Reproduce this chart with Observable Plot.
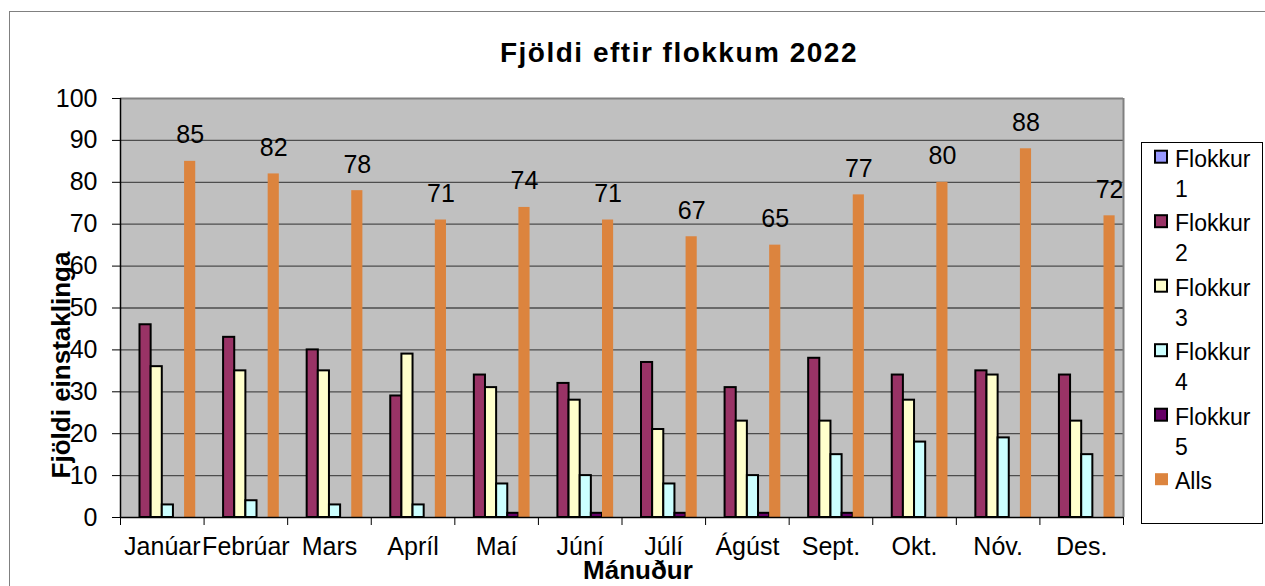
<!DOCTYPE html>
<html>
<head>
<meta charset="utf-8">
<script src="https://cdn.jsdelivr.net/npm/d3@7"></script>
<script src="https://cdn.jsdelivr.net/npm/@observablehq/plot@0.6"></script>
<style>
  html, body { margin: 0; padding: 0; background: white; }
  #chart { position: relative; width: 1265px; height: 586px; overflow: hidden; }
</style>
</head>
<body>
<div id="chart"></div>
<script>
const months = ["Janúar","Febrúar","Mars","Apríl","Maí","Júní","Júlí","Ágúst","Sept.","Okt.","Nóv.","Des."];
const series = ["Flokkur 1","Flokkur 2","Flokkur 3","Flokkur 4","Flokkur 5","Alls"];
const colors = ["#9999ff","#993366","#ffffcc","#ccffff","#660066","#dc843e"];
const flokkur1 = [null,null,null,null,null,null,null,null,null,null,null,null];
const flokkur2 = [46,43,40,29,34,32,37,31,38,34,35,34];
const flokkur3 = [36,35,35,39,31,28,21,23,23,28,34,23];
const flokkur4 = [3,4,3,3,8,10,8,10,15,18,19,15];
const flokkur5 = [null,null,null,null,1,1,1,1,1,null,null,null];
const alls = [85,82,78,71,74,71,67,65,77,80,88,72];
const yTicks = [0,10,20,30,40,50,60,70,80,90,100];

const titleText = "Fjöldi eftir flokkum 2022";
const yLabel = "Fjöldi einstaklinga";
const xLabel = "Mánuður";

const seriesValues = [flokkur1, flokkur2, flokkur3, flokkur4, flokkur5, alls];
const rows = [];
seriesValues.forEach((vals, s) => vals.forEach((v, m) => { if (v != null) rows.push({m, s, v, name: series[s]}); }));

const groupPad = 0.1;
const barW = (1 - 2 * groupPad) / series.length;
const x1 = d => d.m + groupPad + d.s * barW;
const x2 = d => d.m + groupPad + (d.s + 1) * barW;
const xc = d => d.m + groupPad + (d.s + 0.5) * barW;

const FONT = "'Liberation Sans', Arial, Helvetica, sans-serif";

const plot = Plot.plot({
  width: 1265,
  height: 586,
  marginLeft: 120,
  marginRight: 142,
  marginTop: 98,
  marginBottom: 69,
  x: {domain: [0, months.length], axis: null},
  y: {domain: [0, 100], axis: null},
  color: {domain: series, range: colors},
  style: {fontFamily: FONT, fontSize: "25px", background: "white", color: "black"},
  marks: [
    Plot.frame({fill: "#c0c0c0", stroke: null}),
    Plot.ruleY(yTicks.filter(t => t > 0 && t < 100), {stroke: "#4d4d4d", strokeWidth: 1.3}),
    Plot.ruleY([100], {stroke: "#808080", strokeWidth: 2}),
    Plot.ruleX([months.length], {stroke: "#808080", strokeWidth: 2}),
    Plot.rectY(rows.filter(d => d.name !== "Alls"), {x1, x2, y1: 0, y2: "v", fill: "name", stroke: "black", strokeWidth: 2}),
    Plot.rectY(rows.filter(d => d.name === "Alls"), {x1, x2, y1: 0, y2: "v", fill: "name"}),
    Plot.text(rows.filter(d => d.name === "Alls"), {x: xc, y: "v", text: d => String(d.v), lineAnchor: "bottom", dy: -18, fontSize: 25, fill: "black"}),
    Plot.ruleX([0], {stroke: "black", strokeWidth: 1.5}),
    Plot.ruleY([0], {stroke: "black", strokeWidth: 1.5}),
    Plot.axisY({ticks: yTicks, tickSize: 8, tickPadding: 15, fontSize: 25, label: null, stroke: "black"}),
    Plot.axisX({ticks: months.map((_, i) => i).concat([months.length]), tickFormat: () => "", tickSize: 8, label: null, stroke: "black"}),
    Plot.axisX({ticks: months.map((_, i) => i + 0.5), tickFormat: d => months[Math.floor(d)], tickSize: 0, tickPadding: 20, fontSize: 25, label: null})
  ]
});

const svg = d3.select(plot);
// outer chart border
svg.append("rect").attr("x", 9.5).attr("y", 11.5).attr("width", 1270).attr("height", 600)
  .attr("fill", "none").attr("stroke", "#808080").attr("stroke-width", 1);
// title
svg.append("text").attr("x", 679).attr("y", 62).attr("text-anchor", "middle")
  .attr("font-family", FONT).attr("font-weight", "bold").attr("font-size", 28)
  .attr("letter-spacing", "1.5px").attr("fill", "black").text(titleText);
// y label
svg.append("text").attr("transform", "translate(70,365) rotate(-90)").attr("text-anchor", "middle")
  .attr("font-family", FONT).attr("font-weight", "bold").attr("font-size", 26).attr("fill", "black").text(yLabel);
// x label
svg.append("text").attr("x", 638).attr("y", 579).attr("text-anchor", "middle")
  .attr("font-family", FONT).attr("font-weight", "bold").attr("font-size", 26).attr("fill", "black").text(xLabel);

// legend
const lg = svg.append("g").attr("text-anchor", "start");
lg.append("rect").attr("x", 1141.5).attr("y", 142.5).attr("width", 121).attr("height", 381)
  .attr("fill", "white").attr("stroke", "black").attr("stroke-width", 1);
series.forEach((name, i) => {
  const base = 166.7 + i * 64.5;
  const isAlls = name === "Alls";
  lg.append("rect").attr("x", 1155).attr("y", base - 16).attr("width", isAlls ? 13 : 12).attr("height", 12)
    .attr("fill", colors[i]).attr("stroke", isAlls ? "none" : "black").attr("stroke-width", 2);
  const parts = name.split(" ");
  const t = lg.append("text").attr("text-anchor", "start").attr("font-family", FONT).attr("font-size", 23).attr("fill", "black");
  parts.forEach((p, j) => {
    t.append("tspan").attr("x", 1175).attr("y", base + j * 30).text(p);
  });
});

document.getElementById("chart").appendChild(plot);
</script>
</body>
</html>
